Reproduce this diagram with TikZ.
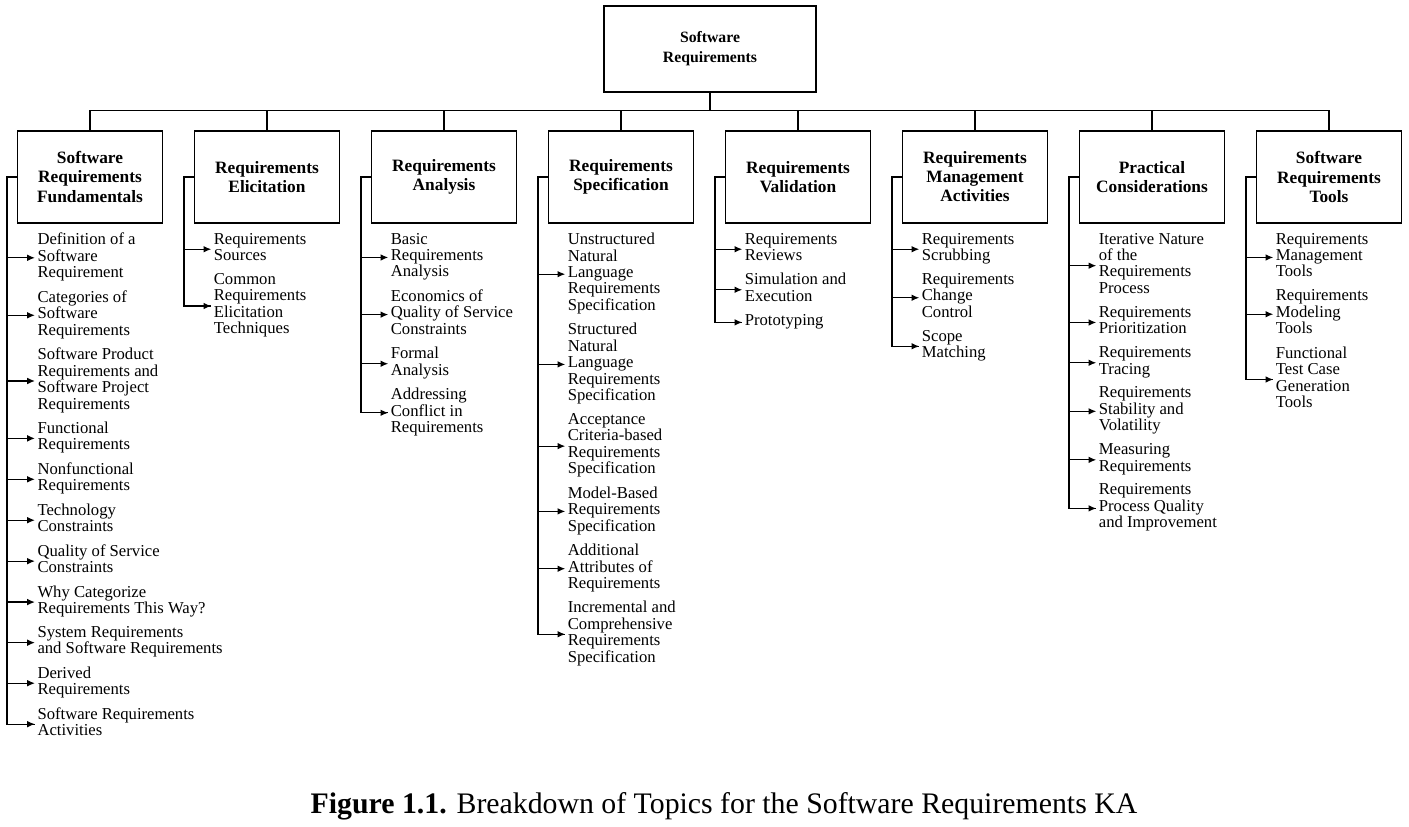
\documentclass[tikz,border=0pt]{standalone}
\usepackage{fontspec}
\setmainfont{Liberation Serif}
\usetikzlibrary{arrows.meta,positioning}

\newcommand{\itemfont}{\fontsize{12.5}{12.35}\selectfont}
\newcommand{\boxfont}{\fontsize{13}{14.3}\selectfont\bfseries}

\begin{document}
\begin{tikzpicture}[
    node distance=23.1pt,
    line width=0.9pt,
    root/.style={draw, rectangle, minimum width=159pt, minimum height=64.5pt, align=center, font=\fontsize{11.8}{15}\selectfont\bfseries},
    topic/.style={draw, rectangle, minimum width=108.75pt, minimum height=69pt, align=center, font=\boxfont, inner sep=2pt},
    sub/.style={inner sep=0pt, align=left, font=\itemfont, anchor=north west, execute at begin node=\strut, execute at end node=\strut},
    arrow/.style={-{Latex[length=5.8pt,width=5pt]}}
]
\useasboundingbox (0,0) rectangle (1056.75pt,-620.25pt);

% Top level
\node[root] (root) at (532.5pt,-36.75pt) {Software\\Requirements};

% Knowledge areas
\node[topic] (fund) at (67.5pt,-132.75pt) {Software\\Requirements\\Fundamentals};
\node[topic, right=of fund] (elic) {Requirements\\Elicitation};
\node[topic, right=of elic] (anal) {Requirements\\Analysis};
\node[topic, right=of anal] (spec) {Requirements\\Specification};
\node[topic, right=of spec] (vali) {Requirements\\Validation};
\node[topic, right=of vali] (mgmt) {Requirements\\Management\\Activities};
\node[topic, right=of mgmt] (prac) {Practical\\Considerations};
\node[topic, right=of prac] (tools) {Software\\Requirements\\Tools};

\draw (root.south) -- ++(0,-13.5pt) coordinate (bus);
\draw (fund.north) |- (bus) -| (tools.north);
\foreach \b in {elic,anal,spec,vali,mgmt,prac}
    \draw (\b.north) -- (\b.north |- bus);

% Fundamentals
\node[sub, below right=6.6pt and 15pt of fund.south west] (fund1) {Definition of a\\Software\\Requirement};
\node[sub, below right=5pt and 0pt of fund1.south west] (fund2) {Categories of\\Software\\Requirements};
\node[sub, below right=5pt and 0pt of fund2.south west] (fund3) {Software Product\\Requirements and\\Software Project\\Requirements};
\node[sub, below right=5pt and 0pt of fund3.south west] (fund4) {Functional\\Requirements};
\node[sub, below right=5pt and 0pt of fund4.south west] (fund5) {Nonfunctional\\Requirements};
\node[sub, below right=5pt and 0pt of fund5.south west] (fund6) {Technology\\Constraints};
\node[sub, below right=5pt and 0pt of fund6.south west] (fund7) {Quality of Service\\Constraints};
\node[sub, below right=5pt and 0pt of fund7.south west] (fund8) {Why Categorize\\Requirements This Way?};
\node[sub, below right=5pt and 0pt of fund8.south west] (fund9) {System Requirements\\and Software Requirements};
\node[sub, below right=5pt and 0pt of fund9.south west] (fund10) {Derived\\Requirements};
\node[sub, below right=5pt and 0pt of fund10.south west] (fund11) {Software Requirements\\Activities};

% Elicitation
\node[sub, below right=6.6pt and 14.5pt of elic.south west] (elic1) {Requirements\\Sources};
\node[sub, below right=5pt and 0pt of elic1.south west] (elic2) {Common\\Requirements\\Elicitation\\Techniques};

% Analysis
\node[sub, below right=6.6pt and 14.5pt of anal.south west] (anal1) {Basic\\Requirements\\Analysis};
\node[sub, below right=5pt and 0pt of anal1.south west] (anal2) {Economics of\\Quality of Service\\Constraints};
\node[sub, below right=5pt and 0pt of anal2.south west] (anal3) {Formal\\Analysis};
\node[sub, below right=5pt and 0pt of anal3.south west] (anal4) {Addressing\\Conflict in\\Requirements};

% Specification
\node[sub, below right=6.6pt and 14.5pt of spec.south west] (spec1) {Unstructured\\Natural\\Language\\Requirements\\Specification};
\node[sub, below right=5pt and 0pt of spec1.south west] (spec2) {Structured\\Natural\\Language\\Requirements\\Specification};
\node[sub, below right=5pt and 0pt of spec2.south west] (spec3) {Acceptance\\Criteria-based\\Requirements\\Specification};
\node[sub, below right=5pt and 0pt of spec3.south west] (spec4) {Model-Based\\Requirements\\Specification};
\node[sub, below right=5pt and 0pt of spec4.south west] (spec5) {Additional\\Attributes of\\Requirements};
\node[sub, below right=5pt and 0pt of spec5.south west] (spec6) {Incremental and\\Comprehensive\\Requirements\\Specification};

% Validation
\node[sub, below right=6.6pt and 14.5pt of vali.south west] (vali1) {Requirements\\Reviews};
\node[sub, below right=5pt and 0pt of vali1.south west] (vali2) {Simulation and\\Execution};
\node[sub, below right=5pt and 0pt of vali2.south west] (vali3) {Prototyping};

% Management activities
\node[sub, below right=6.6pt and 14.5pt of mgmt.south west] (mgmt1) {Requirements\\Scrubbing};
\node[sub, below right=5pt and 0pt of mgmt1.south west] (mgmt2) {Requirements\\Change\\Control};
\node[sub, below right=5pt and 0pt of mgmt2.south west] (mgmt3) {Scope\\Matching};

% Practical considerations
\node[sub, below right=6.6pt and 14.5pt of prac.south west] (prac1) {Iterative Nature\\of the\\Requirements\\Process};
\node[sub, below right=5pt and 0pt of prac1.south west] (prac2) {Requirements\\Prioritization};
\node[sub, below right=5pt and 0pt of prac2.south west] (prac3) {Requirements\\Tracing};
\node[sub, below right=5pt and 0pt of prac3.south west] (prac4) {Requirements\\Stability and\\Volatility};
\node[sub, below right=5pt and 0pt of prac4.south west] (prac5) {Measuring\\Requirements};
\node[sub, below right=5pt and 0pt of prac5.south west] (prac6) {Requirements\\Process Quality\\and Improvement};

% Tools
\node[sub, below right=6.6pt and 14.5pt of tools.south west] (tools1) {Requirements\\Management\\Tools};
\node[sub, below right=5pt and 0pt of tools1.south west] (tools2) {Requirements\\Modeling\\Tools};
\node[sub, below right=5pt and 0pt of tools2.south west] (tools3) {Functional\\Test Case\\Generation\\Tools};

% Rails and arrows
\foreach \b/\n in {fund/11,elic/2,anal/4,spec/6,vali/3,mgmt/3,prac/6,tools/3}{
    \draw (\b.west) -- ++(-7.5pt,0) coordinate (\b rail) |- ([xshift=-1.5pt]\b\n.west);
    \foreach \i in {1,...,\n}
        \draw[arrow] (\b rail |- \b\i.west) -- ([xshift=-1.5pt]\b\i.west);
}

% Caption
\node[font=\fontsize{22.35}{26}\selectfont] (caption) at (543pt,-604.5pt) {\textbf{Figure 1.1.} Breakdown of Topics for the Software Requirements KA};
\end{tikzpicture}
\end{document}
